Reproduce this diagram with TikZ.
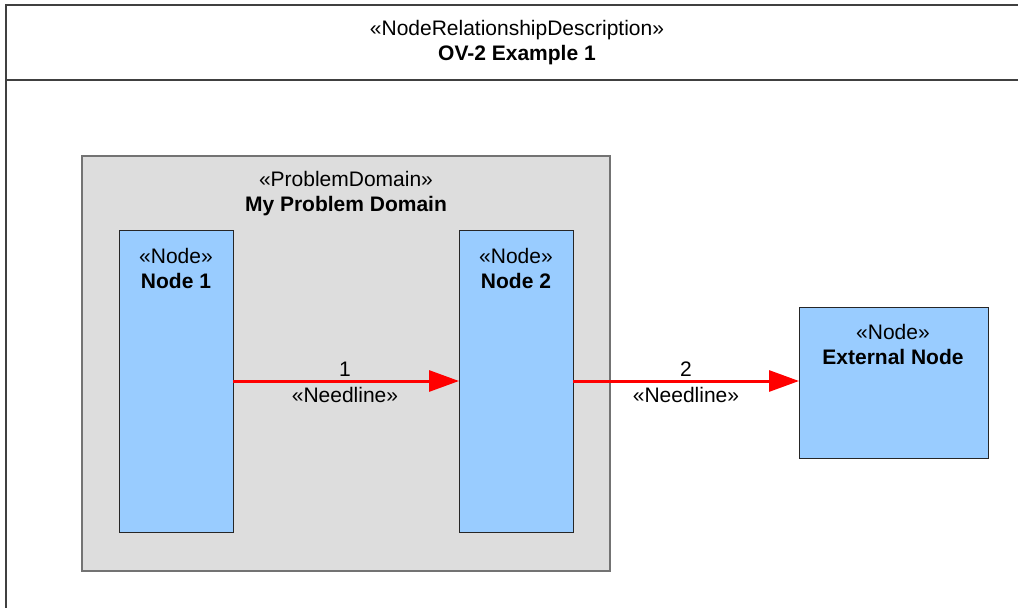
\documentclass[tikz,border=0pt]{standalone}
\usepackage{fontspec}
\setmainfont{Liberation Sans}
\usetikzlibrary{arrows.meta}
\definecolor{nodeblue}{HTML}{99CCFF}
\definecolor{domgray}{HTML}{DDDDDD}
\definecolor{framegray}{HTML}{404040}
\begin{document}
\begin{tikzpicture}[x=1pt,y=-1pt,
  txt/.style={font=\fontsize{21}{25}\selectfont, inner sep=0pt, align=center},
  nodebox/.style={draw=black!85, fill=nodeblue, line width=0.9pt, inner sep=0pt, outer sep=0pt},
  domainbox/.style={draw=black!55, fill=domgray, line width=1.2pt, inner sep=0pt, outer sep=0pt, minimum width=528pt, minimum height=415pt},
  needline/.style={draw=red, line width=3pt, -{Triangle[length=30pt,width=21pt]}}
]
\useasboundingbox (0,0) rectangle (1018,608);
% frame
\draw[framegray, line width=1.5pt] (1040,5) -- (6,5) -- (6,640);
\draw[framegray, line width=1.5pt] (6,80) -- (1040,80);
\node[txt] (title) at (517,43) {«NodeRelationshipDescription»\\\textbf{OV-2 Example 1}};
% problem domain
\node[domainbox] (dom) at (346,363.5) {};
\node[txt] (pd) at (346,194) {«ProblemDomain»\\\textbf{My Problem Domain}};
% nodes
\node[nodebox, minimum width=114pt, minimum height=302pt] (n1) at (176,381) {};
\node[nodebox, minimum width=114pt, minimum height=302pt] (n2) at (516,381) {};
\node[nodebox, minimum width=189pt, minimum height=151pt] (ext) at (893.5,382.5) {};
\node[txt] (n1t) at (176,268) {«Node»\\\textbf{Node 1}};
\node[txt] (n2t) at (516,268) {«Node»\\\textbf{Node 2}};
\node[txt] (extt) at (893,344) {«Node»\\\textbf{External Node}};
% needlines
\draw[needline] (n1.east) -- (n2.west);
\draw[needline] (n2.east) -- (n2.east -| ext.west);
\node[txt] (l1) at (345,369) {1};
\node[txt] (l1s) at (345,395) {«Needline»};
\node[txt] (l2) at (686,369) {2};
\node[txt] (l2s) at (686,395) {«Needline»};
\end{tikzpicture}
\end{document}
